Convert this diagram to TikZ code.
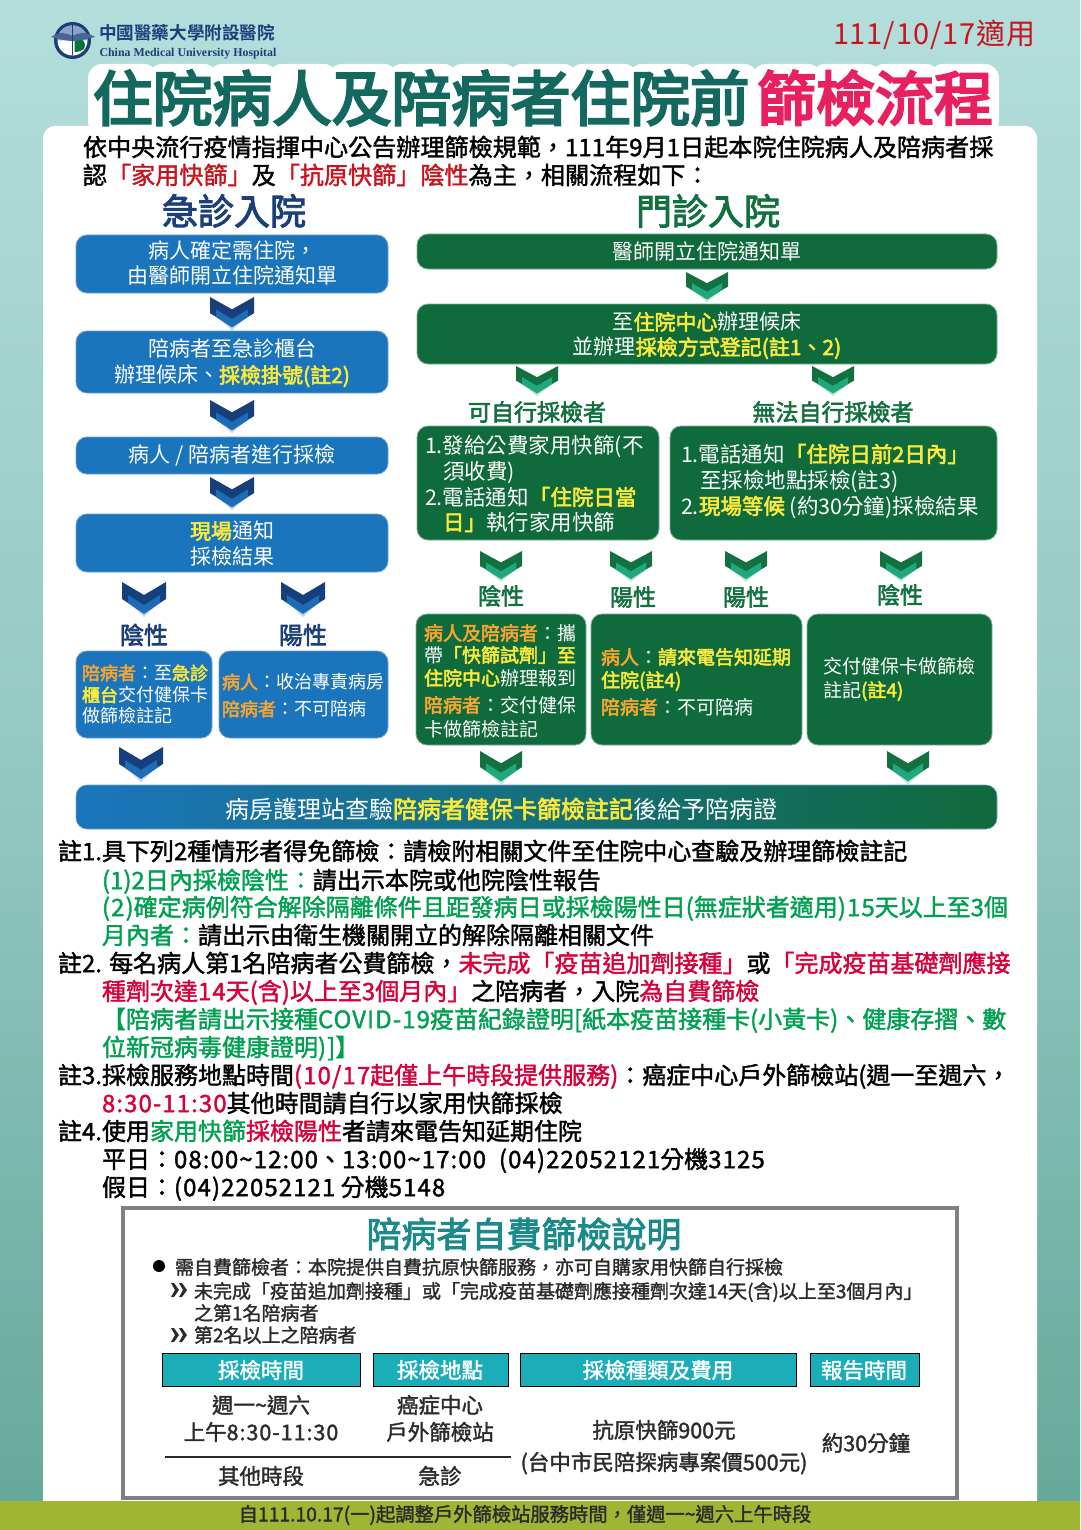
\documentclass[tikz,border=0pt]{standalone}
\usepackage{fontspec}
\setmainfont{Noto Sans CJK TC}
\newfontfamily\medf[FakeBold=1.6]{Noto Sans CJK TC}
\newfontfamily\semi[FakeBold=2.6]{Noto Sans CJK TC}
\newfontfamily\heavy[FakeBold=4]{Noto Sans CJK TC}
\newfontfamily\serf{Liberation Serif}
\definecolor{bgtop}{HTML}{B3DEDC}
\definecolor{bgbot}{HTML}{64A899}
\definecolor{bluebox}{HTML}{1B75BC}
\definecolor{blueedge}{HTML}{6C9FD8}
\definecolor{greenbox}{HTML}{0F6A3C}
\definecolor{greenedge}{HTML}{7FAE96}
\definecolor{yel}{HTML}{FBEA3C}
\definecolor{ora}{HTML}{F9A630}
\definecolor{navy}{HTML}{1B3F7A}
\definecolor{grn}{HTML}{12713F}
\definecolor{tgreen}{HTML}{13695F}
\definecolor{pink}{HTML}{E8205F}
\definecolor{rd}{HTML}{C8141E}
\definecolor{nred}{HTML}{D7003A}
\definecolor{ngrn}{HTML}{00A050}
\definecolor{teal}{HTML}{1A8A8A}
\definecolor{hdr}{HTML}{1BADB8}
\definecolor{olive}{HTML}{A0B534}
\definecolor{dk}{HTML}{2B2B2B}
\definecolor{lilac}{HTML}{8F9FC8}
\definecolor{chbA}{HTML}{163F7C}\definecolor{chbB}{HTML}{1C6DB5}\definecolor{chbC}{HTML}{C7D6EC}
\definecolor{chgA}{HTML}{12713F}\definecolor{chgB}{HTML}{1FA87D}\definecolor{chgC}{HTML}{C4E6D8}
\newcounter{tn}
\tikzset{
  x=1pt,y=-1pt,
  txt/.style={inner sep=0pt,outer sep=0pt},
  bbox/.style={rectangle,rounded corners=11pt,draw=blueedge,line width=.8pt,fill=bluebox},
  gbox/.style={rectangle,rounded corners=11pt,draw=greenedge,line width=.8pt,fill=greenbox},
  hbox/.style={rectangle,fill=hdr}
}
\newcommand{\tl}[4]{\stepcounter{tn}\node[txt,anchor=base west] (t\arabic{tn}) at ({#1},{#2+0.38*#3}) {\fontsize{#3}{#3}\selectfont #4};}
\newcommand{\tc}[4]{\stepcounter{tn}\node[txt,anchor=base] (t\arabic{tn}) at ({#1},{#2+0.38*#3}) {\fontsize{#3}{#3}\selectfont #4};}
\newcommand{\bx}[6]{\draw[#2] (#3,#4) rectangle (#5,#6) coordinate[pos=.5] (#1);}
\newcommand{\chev}[4]{\begin{scope}[shift={(#1,#2)},yscale=#3]
 \fill[chgC] (-15,21)--(0,35)--(15,21)--cycle;
 \fill[chgA] (-21,0)--(0,13)--(21,0)--(21,17)--(0,31)--(-21,17)--cycle;
 \fill[chgB] (-15,13)--(0,23)--(15,13)--(15,21)--(0,32)--(-15,21)--cycle;
\end{scope}}
\newcommand{\chevb}[4]{\begin{scope}[shift={(#1,#2)},yscale=#3]
 \fill[chbC] (-15,21)--(0,35)--(15,21)--cycle;
 \fill[chbA] (-22,0)--(0,13)--(22,0)--(22,17)--(0,31)--(-22,17)--cycle;
 \fill[chbB] (-16,13)--(0,23)--(16,13)--(16,21)--(0,32)--(-16,21)--cycle;
\end{scope}}
\newcommand{\dbl}[2]{\begin{scope}[shift={(#1,#2)}]
 \fill[dk] (-8,-7)--(-5,-7)--(0,0)--(-5,7)--(-8,7)--(-4,0)--cycle;
 \fill[dk] (0,-7)--(3,-7)--(8,0)--(3,7)--(0,7)--(4,0)--cycle;
\end{scope}}
\newcommand{\Y}[1]{\textcolor{yel}{\semi #1}}
\newcommand{\Or}[1]{\textcolor{ora}{\semi #1}}
\newcommand{\R}[1]{\textcolor{nred}{#1}}
\newcommand{\G}[1]{\textcolor{ngrn}{#1}}
\newcommand{\N}[1]{{\addfontfeature{LetterSpace=4.5}#1}}
\newcommand{\W}{\color{white}}
\begin{document}
\begin{tikzpicture}
\useasboundingbox (0,0) rectangle (1080,1530);
% background
\shade[top color=bgtop,bottom color=bgbot,middle color=bgtop!60!bgbot] (0,0) rectangle (1080,1530);
\fill[white,rounded corners=12pt] (43,126) rectangle (1037,1520);
\fill[olive] (0,1501) rectangle (1080,1530);
% title halo
\foreach \cx in {123,183,243,303,363,423,483,543,603,663,723,787,846,905,964}
  \fill[white,rounded corners=14pt] (\cx-35,64) rectangle (\cx+35,135);
% logo
\coordinate (lg) at (72.5,40.5);
\fill[navy] (lg) circle (18.5);
\fill[white] (lg) circle (15);
\fill[lilac] (lg) ++(15,0) arc (0:-180:15) -- cycle;
\fill[ngrn!75!black] (74.5,38.5) .. controls (84,37) and (87,44) .. (84,49) .. controls (80,52) and (76,52) .. (74.5,52) -- cycle;
\fill[navy!80] (51,37) .. controls (60,31) and (67,33) .. (72.5,36) .. controls (78,33) and (85,31) .. (95,37) .. controls (86,39) and (79,41) .. (72.5,41) .. controls (66,41) and (60,39) .. (51,37) -- cycle;
\draw[white,line width=1.8pt] (72.5,24) -- (72.5,55);
\draw[navy,line width=.9pt] (72.5,24) -- (72.5,55);
\tl{99}{33}{17.6}{\textcolor{navy}{\fontspec{Noto Sans CJK TC Bold}中國醫藥大學附設醫院}}
\tl{99.5}{51.5}{11.9}{\textcolor{navy}{\serf\bfseries China Medical University Hospital}}
\tl{833}{33}{29}{\textcolor{rd}{\addfontfeature{LetterSpace=3}111/10/17適用}}
% title
\tl{93}{98}{59.7}{\textcolor{tgreen}{\heavy 住院病人及陪病者住院前}}
\tl{757}{98}{59}{\textcolor{pink}{\heavy 篩檢流程}}
% intro
\tl{83}{147}{24.1}{\medf 依中央流行疫情指揮中心公告辦理篩檢規範，111年9月1日起本院住院病人及陪病者採}
\tl{83}{175}{24.1}{\medf 認\textcolor{rd}{「家用快篩」}及\textcolor{rd}{「抗原快篩」陰性}為主，相關流程如下：}
% headings
\tc{234}{211}{36}{\textcolor{navy}{\semi 急診入院}}
\tc{708}{211}{36}{\textcolor{grn}{\semi 門診入院}}
% --- left flow ---
\bx{b1}{bbox}{76}{235}{388}{293}
\tc{232}{251}{21}{\W 病人確定需住院，}
\tc{232}{276}{21}{\W 由醫師開立住院通知單}
\chevb{232}{297}{.95}{}
\bx{b2}{bbox}{76}{331}{388}{393}
\tc{232}{349}{21}{\W 陪病者至急診櫃台}
\tc{232}{375}{21}{\W 辦理候床、\Y{採檢掛號(註2)}}
\chevb{232}{400}{.95}{}
\bx{b3}{bbox}{76}{437}{388}{474}
\tc{232}{455}{21}{\W 病人 / 陪病者進行採檢}
\chevb{232}{477}{.95}{}
\bx{b4}{bbox}{76}{514}{388}{572}
\tc{232}{531}{21}{\W \Y{現場}通知}
\tc{232}{557}{21}{\W 採檢結果}
\chevb{144}{582}{1}{}
\chevb{303}{582}{1}{}
\tc{144}{635}{24}{\textcolor{navy}{\semi 陰性}}
\tc{303}{635}{24}{\textcolor{navy}{\semi 陽性}}
\bx{b5}{bbox}{76}{651}{212}{738}
\tl{82}{673}{18}{\W \Or{陪病者}：至\Y{急診}}
\tl{82}{695}{18}{\W \Y{櫃台}交付健保卡}
\tl{82}{716}{18}{\W 做篩檢註記}
\bx{b6}{bbox}{219}{651}{388}{738}
\tl{222}{682}{18}{\W \Or{病人}：收治專責病房}
\tl{222}{709}{18}{\W \Or{陪病者}：不可陪病}
\chevb{141}{747}{1}{}
% bar
\draw[rounded corners=11pt,left color=bluebox,right color=greenbox,draw=blueedge!60!greenedge,line width=.6pt] (76,785) rectangle (997,829) coordinate[pos=.5] (bar);
\tc{501}{809}{24}{\W 病房護理站查驗\Y{陪病者健保卡篩檢註記}後給予陪病證}
% --- right flow ---
\bx{g1}{gbox}{417}{234}{997}{269}
\tc{707}{252}{21}{\W 醫師開立住院通知單}
\chev{707}{272}{.86}{}
\bx{g2}{gbox}{417}{304}{997}{364}
\tc{707}{322}{21}{\W 至\Y{住院中心}辦理候床}
\tc{707}{347}{21}{\W 並辦理\Y{採檢方式登記(註1、2)}}
\chev{537}{366}{.86}{}
\chev{833}{366}{.86}{}
\tc{537}{412}{23}{\textcolor{grn}{\semi 可自行採檢者}}
\tc{833}{412}{23}{\textcolor{grn}{\semi 無法自行採檢者}}
\bx{g3}{gbox}{417}{426}{659}{540}
\tl{425}{445}{21.5}{\W 1.發給公費家用快篩(不}
\tl{443}{471}{21.5}{\W 須收費)}
\tl{425}{497}{21.5}{\W 2.電話通知\Y{「住院日當}}
\tl{443}{522}{21.5}{\W \Y{日」}執行家用快篩}
\bx{g4}{gbox}{670}{426}{997}{540}
\tl{681}{454}{21.5}{\W 1.電話通知\Y{「住院日前2日內」}}
\tl{700}{480}{21.5}{\W 至採檢地點採檢(註3)}
\tl{681}{506}{21.5}{\W 2.\Y{現場等候} (約30分鐘)採檢結果}
\chev{501}{551}{.88}{}
\chev{631}{551}{.88}{}
\chev{746}{551}{.88}{}
\chev{901}{551}{.88}{}
\tc{501}{596}{23}{\textcolor{grn}{\semi 陰性}}
\tc{633}{597}{23}{\textcolor{grn}{\semi 陽性}}
\tc{746}{597}{23}{\textcolor{grn}{\semi 陽性}}
\tc{900}{595}{23}{\textcolor{grn}{\semi 陰性}}
\bx{g5}{gbox}{416}{614}{586}{745}
\tl{424}{633}{19}{\W \Or{病人及陪病者}：攜}
\tl{424}{655}{19}{\W 帶\Y{「快篩試劑」至}}
\tl{424}{678}{19}{\W \Y{住院中心}辦理報到}
\tl{424}{705}{19}{\W \Or{陪病者}：交付健保}
\tl{424}{729}{19}{\W 卡做篩檢註記}
\bx{g6}{gbox}{591}{614}{802}{745}
\tl{601}{657}{19}{\W \Or{病人}：\Y{請來電告知延期}}
\tl{601}{680}{19}{\W \Y{住院(註4)}}
\tl{601}{707}{19}{\W \Or{陪病者}：不可陪病}
\bx{g7}{gbox}{807}{614}{992}{745}
\tl{823}{666}{19}{\W 交付健保卡做篩檢}
\tl{823}{690}{19}{\W 註記\Y{(註4)}}
\chev{501}{751}{.95}{}
\chev{908}{751}{.95}{}
% --- notes ---
\tl{58}{851}{24}{\medf 註1.具下列\N{2}種情形者得免篩檢：請檢附相關文件至住院中心查驗及辦理篩檢註記}
\tl{102}{880}{24}{\medf \G{(1)2日內採檢陰性：}請出示本院或他院陰性報告}
\tl{102}{907}{24}{\medf \G{\N{(2)}確定病例符合解除隔離條件且距發病日或採檢陽性日\N{(}無症狀者適用\N{)15}天以上至\N{3}個}}
\tl{102}{935}{24}{\medf \G{月內者：}請出示由衛生機關開立的解除隔離相關文件}
\tl{58}{963}{24}{\medf 註2. 每名病人第\N{1}名陪病者公費篩檢，\R{未完成「疫苗追加劑接種」}或\R{「完成疫苗基礎劑應接}}
\tl{102}{991}{24}{\medf \R{種劑次達\N{14}天\N{(}含\N{)}以上至\N{3}個月內」}之陪病者，入院\R{為自費篩檢}}
\tl{102}{1019}{24}{\medf \G{【陪病者請出示接種\N{COVID-19}疫苗紀錄證明\N{[}紙本疫苗接種卡\N{(}小黃卡\N{)}、健康存摺、數}}
\tl{102}{1047}{24}{\medf \G{位新冠病毒健康證明\N{)]}】}}
\tl{58}{1075}{24}{\medf 註3.採檢服務地點時間\R{\N{(10/17}起僅上午時段提供服務\N{)}}：癌症中心戶外篩檢站\N{(}週一至週六，}
\tl{102}{1103}{24}{\medf \R{\N{8:30-11:30}}其他時間請自行以家用快篩採檢}
\tl{58}{1131}{24}{\medf 註4.使用\G{家用快篩}\R{採檢陽性}者請來電告知延期住院}
\tl{102}{1159}{24}{\medf 平日：\N{08:00\textasciitilde 12:00}、\N{13:00\textasciitilde 17:00\ \ (04)22052121}分機\N{3125}}
\tl{102}{1187}{24}{\medf 假日：\N{(04)22052121} 分機\N{5148}}
% --- self pay box ---
\draw[draw=black!50,line width=4pt,fill=white] (123,1208) rectangle (957,1498) coordinate[pos=.5] (sp);
\tc{524}{1234}{35}{\textcolor{teal}{\semi 陪病者自費篩檢說明}}
\fill[black] (159,1266) circle (6);
\tl{175}{1267}{19}{\color{dk}\medf 需自費篩檢者：本院提供自費抗原快篩服務，亦可自購家用快篩自行採檢}
\dbl{179}{1290}
\tl{194}{1291}{19}{\color{dk}\medf 未完成「疫苗追加劑接種」或「完成疫苗基礎劑應接種劑次達14天(含)以上至3個月內」}
\tl{194}{1313}{19}{\color{dk}\medf 之第1名陪病者}
\dbl{179}{1335}
\tl{194}{1335}{19}{\color{dk}\medf 第2名以上之陪病者}
\bx{h1}{hbox}{162}{1353}{360}{1386}
\bx{h2}{hbox}{373}{1353}{508}{1386}
\bx{h3}{hbox}{520}{1353}{796}{1386}
\bx{h4}{hbox}{810}{1353}{919}{1386}
\tc{261}{1370}{21.5}{\W\medf 採檢時間}
\tc{440}{1370}{21.5}{\W\medf 採檢地點}
\tc{658}{1370}{21.5}{\W\medf 採檢種類及費用}
\tc{864}{1370}{21.5}{\W\medf 報告時間}
\tc{261}{1405}{21.5}{\color{dk}\medf 週一\textasciitilde 週六}
\tc{261}{1432}{21.5}{\color{dk}\medf 上午\N{8:30-11:30}}
\tc{440}{1405}{21.5}{\color{dk}\medf 癌症中心}
\tc{440}{1432}{21.5}{\color{dk}\medf 戶外篩檢站}
\tc{261}{1476}{21.5}{\color{dk}\medf 其他時段}
\tc{440}{1476}{21.5}{\color{dk}\medf 急診}
\tc{664}{1430}{21.5}{\color{dk}\medf 抗原快篩900元}
\tc{664}{1462}{21.5}{\color{dk}\medf (台中市民陪探病專案價500元)}
\tc{866}{1443}{21.5}{\color{dk}\medf 約30分鐘}
\coordinate (ruleA) at (165,1457);
\coordinate (ruleB) at (511,1457);
\draw[dk,line width=1.2pt] (ruleA) -- (ruleB);
% bottom band
\tc{525}{1514}{19.3}{\color{dk}\medf 自111.10.17(一)起調整戶外篩檢站服務時間，僅週一\textasciitilde 週六上午時段}
\end{tikzpicture}
\end{document}
